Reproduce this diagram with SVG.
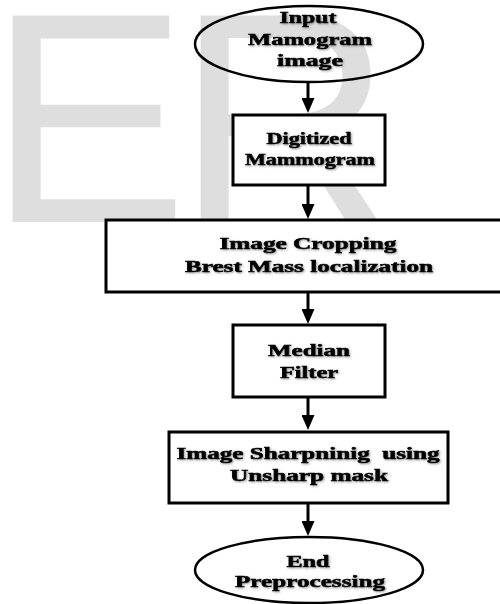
<svg xmlns="http://www.w3.org/2000/svg" width="500" height="604" viewBox="0 0 500 604">
  <defs>
    <style>
      .wm { font-family: "Liberation Sans", Arial, sans-serif; font-size: 300px; fill: #dedede; }
      .box { fill: #ffffff; stroke: #000000; stroke-width: 3; }
      .oval { fill: none; stroke: #000000; stroke-width: 2.5; }
      .lbl { font-family: "Liberation Serif", "Times New Roman", serif; font-weight: bold; font-size: 17px; fill: #000000; stroke: #000000; stroke-width: 0.6; text-anchor: middle; }
      .conn line { stroke: #000000; stroke-width: 3; }
    </style>
    <filter id="sh" x="-10%" y="-30%" width="120%" height="160%">
      <feDropShadow dx="1" dy="1" stdDeviation="0.8" flood-color="#555555" flood-opacity="0.6"/>
    </filter>
    <marker id="ah" viewBox="0 0 15 13" refX="7" refY="6.5" markerWidth="15" markerHeight="13" markerUnits="userSpaceOnUse" orient="auto">
      <path d="M0,0 L15,6.5 L0,13 z" fill="#000000"/>
    </marker>
  </defs>

  <rect x="0" y="0" width="500" height="604" fill="#ffffff"/>

  <g id="watermark">
    <text class="wm" x="-12" y="222">E</text>
    <text class="wm" x="176" y="222">R</text>
  </g>

  <g id="connectors" class="conn">
    <line x1="308" y1="82" x2="308" y2="105" marker-end="url(#ah)"/>
    <line x1="308" y1="185" x2="308" y2="211" marker-end="url(#ah)"/>
    <line x1="308" y1="292" x2="308" y2="316" marker-end="url(#ah)"/>
    <line x1="308" y1="397" x2="308" y2="422" marker-end="url(#ah)"/>
    <line x1="308" y1="503" x2="308" y2="528" marker-end="url(#ah)"/>
  </g>

  <g id="input">
    <ellipse class="oval" cx="309" cy="44" rx="114" ry="38"/>
    <g filter="url(#sh)">
      <text class="lbl" x="308" y="23" textLength="57" lengthAdjust="spacingAndGlyphs">Input</text>
      <text class="lbl" x="310" y="45" textLength="124" lengthAdjust="spacingAndGlyphs">Mamogram</text>
      <text class="lbl" x="310" y="66" textLength="66" lengthAdjust="spacingAndGlyphs">image</text>
    </g>
  </g>

  <g id="digitized">
    <rect class="box" x="233" y="115" width="152" height="70"/>
    <g filter="url(#sh)">
      <text class="lbl" x="309" y="144" textLength="85" lengthAdjust="spacingAndGlyphs">Digitized</text>
      <text class="lbl" x="310" y="165" textLength="130" lengthAdjust="spacingAndGlyphs">Mammogram</text>
    </g>
  </g>

  <g id="cropping">
    <rect class="box" x="106" y="220" width="400" height="72"/>
    <g filter="url(#sh)">
      <text class="lbl" x="308" y="249" textLength="177" lengthAdjust="spacingAndGlyphs">Image Cropping</text>
      <text class="lbl" x="309" y="272" textLength="248" lengthAdjust="spacingAndGlyphs">Brest Mass localization</text>
    </g>
  </g>

  <g id="median">
    <rect class="box" x="233" y="325" width="152" height="72"/>
    <g filter="url(#sh)">
      <text class="lbl" x="309" y="356" textLength="82" lengthAdjust="spacingAndGlyphs">Median</text>
      <text class="lbl" x="309" y="378" textLength="58" lengthAdjust="spacingAndGlyphs">Filter</text>
    </g>
  </g>

  <g id="sharpening">
    <rect class="box" x="169" y="432" width="279" height="71"/>
    <g filter="url(#sh)">
      <text class="lbl" x="308" y="459" textLength="263" lengthAdjust="spacingAndGlyphs" xml:space="preserve">Image Sharpninig  using</text>
      <text class="lbl" x="309" y="481" textLength="158" lengthAdjust="spacingAndGlyphs">Unsharp mask</text>
    </g>
  </g>

  <g id="end">
    <ellipse class="oval" cx="309" cy="570" rx="114" ry="33"/>
    <g filter="url(#sh)">
      <text class="lbl" x="308" y="567" textLength="43" lengthAdjust="spacingAndGlyphs">End</text>
      <text class="lbl" x="310" y="587" textLength="150" lengthAdjust="spacingAndGlyphs">Preprocessing</text>
    </g>
  </g>
</svg>
